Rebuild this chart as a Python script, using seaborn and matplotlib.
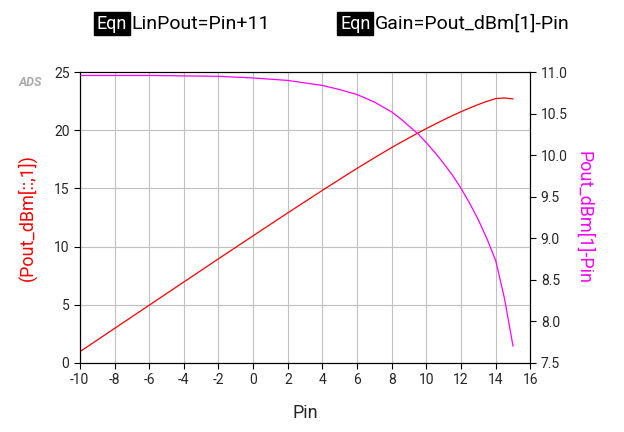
import matplotlib
matplotlib.use("Agg")
import matplotlib.pyplot as plt
import seaborn as sns
import pandas as pd

pin = [-10, -8, -6, -4, -2, 0, 2, 4, 5, 6, 7, 8, 8.5, 9, 9.5, 10, 10.5, 11, 11.5, 12, 12.5, 13, 13.5, 14, 14.5, 15]
gain = [10.96, 10.96, 10.96, 10.955, 10.95, 10.93, 10.9, 10.84, 10.79, 10.73, 10.64, 10.52, 10.44, 10.35, 10.26, 10.15, 10.03, 9.9, 9.76, 9.6, 9.42, 9.22, 8.99, 8.73, 8.28, 7.7]
pout = [p + g for p, g in zip(pin, gain)]
df = pd.DataFrame({"Pin": pin, "Pout": pout, "Gain": gain})

sns.set_style("white")
plt.rcParams['font.family'] = ['Roboto', 'DejaVu Sans']
plt.rcParams['axes.unicode_minus'] = False
fig = plt.figure(figsize=(6.24, 4.32), dpi=100)
ax = fig.add_axes([0.128, 0.16, 0.722, 0.673])
ax2 = ax.twinx()
sns.lineplot(data=df, x="Pin", y="Pout", ax=ax, color="red", lw=0.9)
sns.lineplot(data=df, x="Pin", y="Gain", ax=ax2, color="magenta", lw=0.9)

ax.set_xlim(-10, 16); ax.set_ylim(0, 25)
ax.set_xticks(range(-10, 17, 2)); ax.set_yticks(range(0, 26, 5))
ax2.set_ylim(7.5, 11.0); ax2.set_yticks([7.5 + 0.5 * i for i in range(8)])
ax2.set_yticklabels([f"{7.5 + 0.5 * i:.1f}" for i in range(8)])
ax.grid(True, color="#c0c0c0", lw=0.8)
for a in (ax, ax2):
    a.tick_params(labelsize=10, length=4, direction="out", color="black")
    for s in a.spines.values():
        s.set_color("black"); s.set_linewidth(0.8)
ax.tick_params(left=True, bottom=True)
ax2.tick_params(right=True)
ax.set_xlabel("Pin", fontsize=13, labelpad=12)
ax.set_ylabel("(Pout_dBm[::,1])", color="red", fontsize=13, labelpad=12)
ax2.set_ylabel("Pout_dBm[1]-Pin", color="magenta", fontsize=13, rotation=-90, labelpad=18)
fig.text(0.03, 0.8, "ADS", fontsize=9, color="#aaaaaa", fontweight="bold", style="italic")

def eqn(x, txt):
    fig.text(x, 0.945, "Eqn", fontsize=13, color="white", va="center",
             bbox=dict(boxstyle="square,pad=0.15", fc="black", ec="black"))
    fig.text(x + 0.055, 0.945, txt, fontsize=14, color="black", va="center")
eqn(0.155, "LinPout=Pin+11")
eqn(0.545, "Gain=Pout_dBm[1]-Pin")
fig.savefig("out.png", dpi=100)
